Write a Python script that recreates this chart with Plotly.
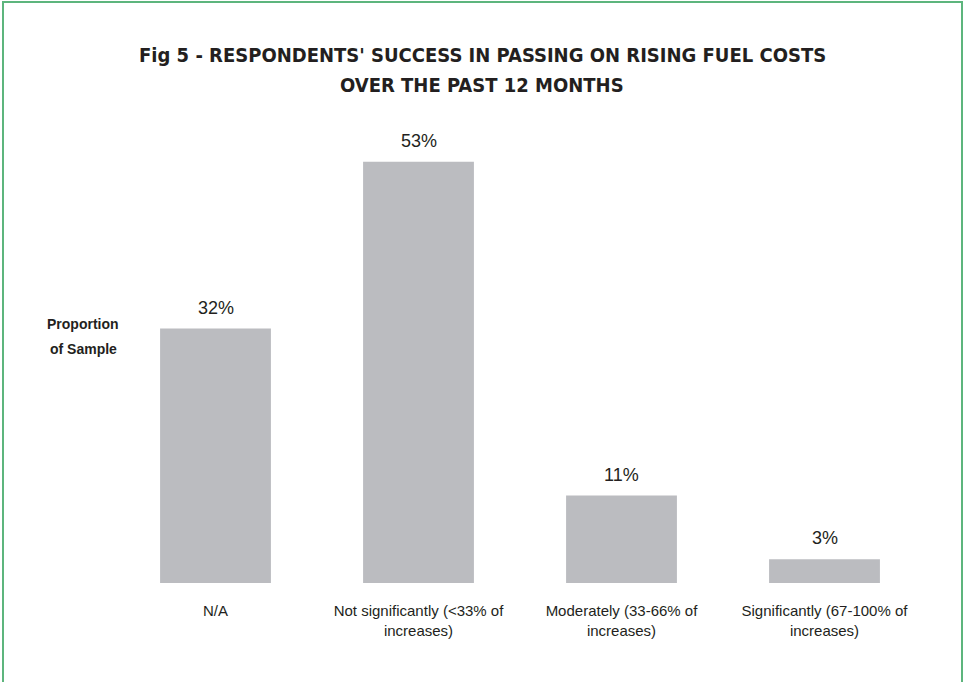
import plotly.graph_objects as go

categories = ["N/A", "Not significantly (<33% of<br>increases)",
              "Moderately (33-66% of<br>increases)", "Significantly (67-100% of<br>increases)"]
values = [32, 53, 11, 3]
value_labels = ["32%", "53%", "11%", "3%"]

W, H = 964, 682
L, R, T, B = 114, 38, 106, 99
pw, ph = W - L - R, H - T - B

def px(x): return (x - L) / pw
def py(y): return (H - B - y) / ph

fig = go.Figure()
fig.add_trace(go.Bar(x=list(range(4)), y=values, marker=dict(color="#bbbcc0", line=dict(width=0)),
                     width=0.546, hoverinfo="skip"))

for i, (v, t) in enumerate(zip(values, value_labels)):
    fig.add_annotation(x=i, y=v, text=t, showarrow=False, yanchor="bottom", yshift=9,
                       font=dict(family="Liberation Sans, Arial", size=18, color="#231f20"))

fig.update_xaxes(range=[-0.5, 3.5], tickmode="array", tickvals=list(range(4)), ticktext=categories,
                 showgrid=False, zeroline=False, showline=False, ticks="", ticklen=0, ticklabelstandoff=17,
                 tickfont=dict(family="Liberation Sans, Arial", size=15, color="#231f20"))
fig.update_yaxes(range=[0, 60], visible=False, showgrid=False, zeroline=False)

TF = "DejaVu Sans Condensed, Liberation Sans, Arial"
# title
fig.add_annotation(xref="paper", yref="paper", x=px(482), y=py(55), text="Fig 5 - RESPONDENTS' SUCCESS IN PASSING ON RISING FUEL COSTS",
                   showarrow=False, xanchor="center", yanchor="middle",
                   font=dict(family=TF, size=20, color="#231f20", weight="bold"))
fig.add_annotation(xref="paper", yref="paper", x=px(482), y=py(85), text="OVER THE PAST 12 MONTHS",
                   showarrow=False, xanchor="center", yanchor="middle",
                   font=dict(family=TF, size=20, color="#231f20", weight="bold"))
# y label
for txt, yy in [("Proportion", 324), ("of Sample", 349)]:
    fig.add_annotation(xref="paper", yref="paper", x=px(83), y=py(yy), text=txt, showarrow=False,
                       xanchor="center", yanchor="middle",
                       font=dict(family="Liberation Sans, Arial", size=14, color="#231f20", weight="bold"))

# border
fig.add_shape(type="rect", xref="paper", yref="paper", x0=px(3), x1=px(962), y0=py(700), y1=py(2),
              line=dict(color="#5db57d", width=2), fillcolor="rgba(0,0,0,0)", layer="above")

fig.update_layout(width=W, height=H, margin=dict(l=L, r=R, t=T, b=B),
                  paper_bgcolor="white", plot_bgcolor="white", showlegend=False)

fig.write_html("out.html")
